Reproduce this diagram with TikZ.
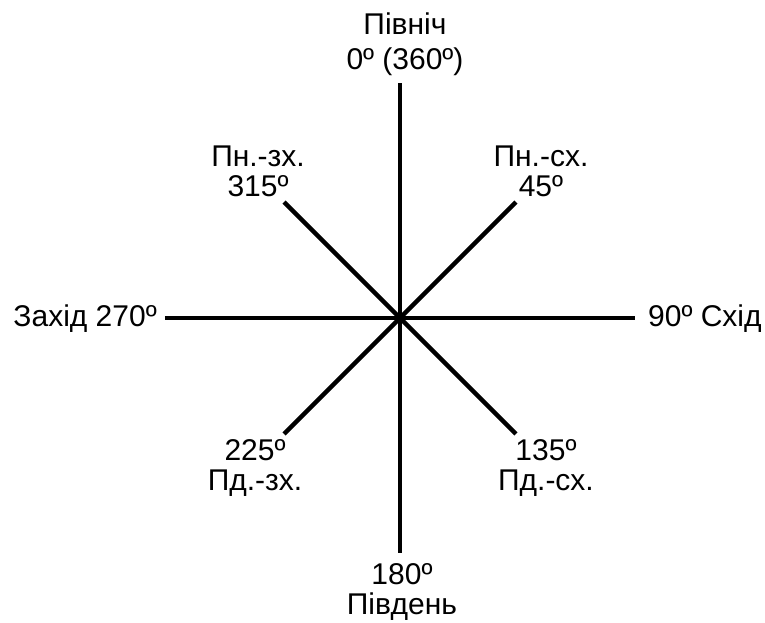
\documentclass[tikz,border=0pt]{standalone}
\usepackage{fontspec}
\setmainfont{Liberation Sans}
\usepackage{tikz}
\usetikzlibrary{positioning}

\begin{document}
\begin{tikzpicture}[node distance=5pt,
  rumb/.style={line width=4.5pt},
  napr/.style={align=center,inner sep=0pt,font=\fontsize{30}{30}\selectfont}]
\useasboundingbox (-400pt,-304pt) rectangle (365pt,318pt);
\coordinate (centr) at (0,0);
\coordinate (pivn) at (90:235pt);
\coordinate (pivd) at (270:235pt);
\coordinate (zah) at (180:235pt);
\coordinate (shid) at (0:235pt);
\coordinate (pnsh) at (45:164pt);
\coordinate (pnzh) at (135:164pt);
\coordinate (pdzh) at (225:164pt);
\coordinate (pdsh) at (315:164pt);
\draw[rumb] (pivn)--(centr)--(pivd);
\draw[rumb] (zah)--(centr)--(shid);
\draw[rumb] (pnzh)--(centr)--(pdsh);
\draw[rumb] (pnsh)--(centr)--(pdzh);
\node[napr,above=7pt of pivn,xshift=5pt] (tpivn) {Північ\\[5pt]0º (360º)};
\node[napr,below=10pt of pivd,xshift=2pt] (tpivd) {180º\\Південь};
\node[napr,left=8pt of zah,yshift=-1pt] (tzah) {Захід 270º};
\node[napr,right=13pt of shid,yshift=-1pt] (tshid) {90º Схід};
\node[napr,above=of pnzh,xshift=-26pt] (tpnzh) {Пн.-зх.\\315º};
\node[napr,above=of pnsh,xshift=25pt] (tpnsh) {Пн.-сх.\\45º};
\node[napr,below=of pdzh,xshift=-29pt] (tpdzh) {225º\\Пд.-зх.};
\node[napr,below=of pdsh,xshift=30pt] (tpdsh) {135º\\Пд.-сх.};
\end{tikzpicture}
\end{document}
